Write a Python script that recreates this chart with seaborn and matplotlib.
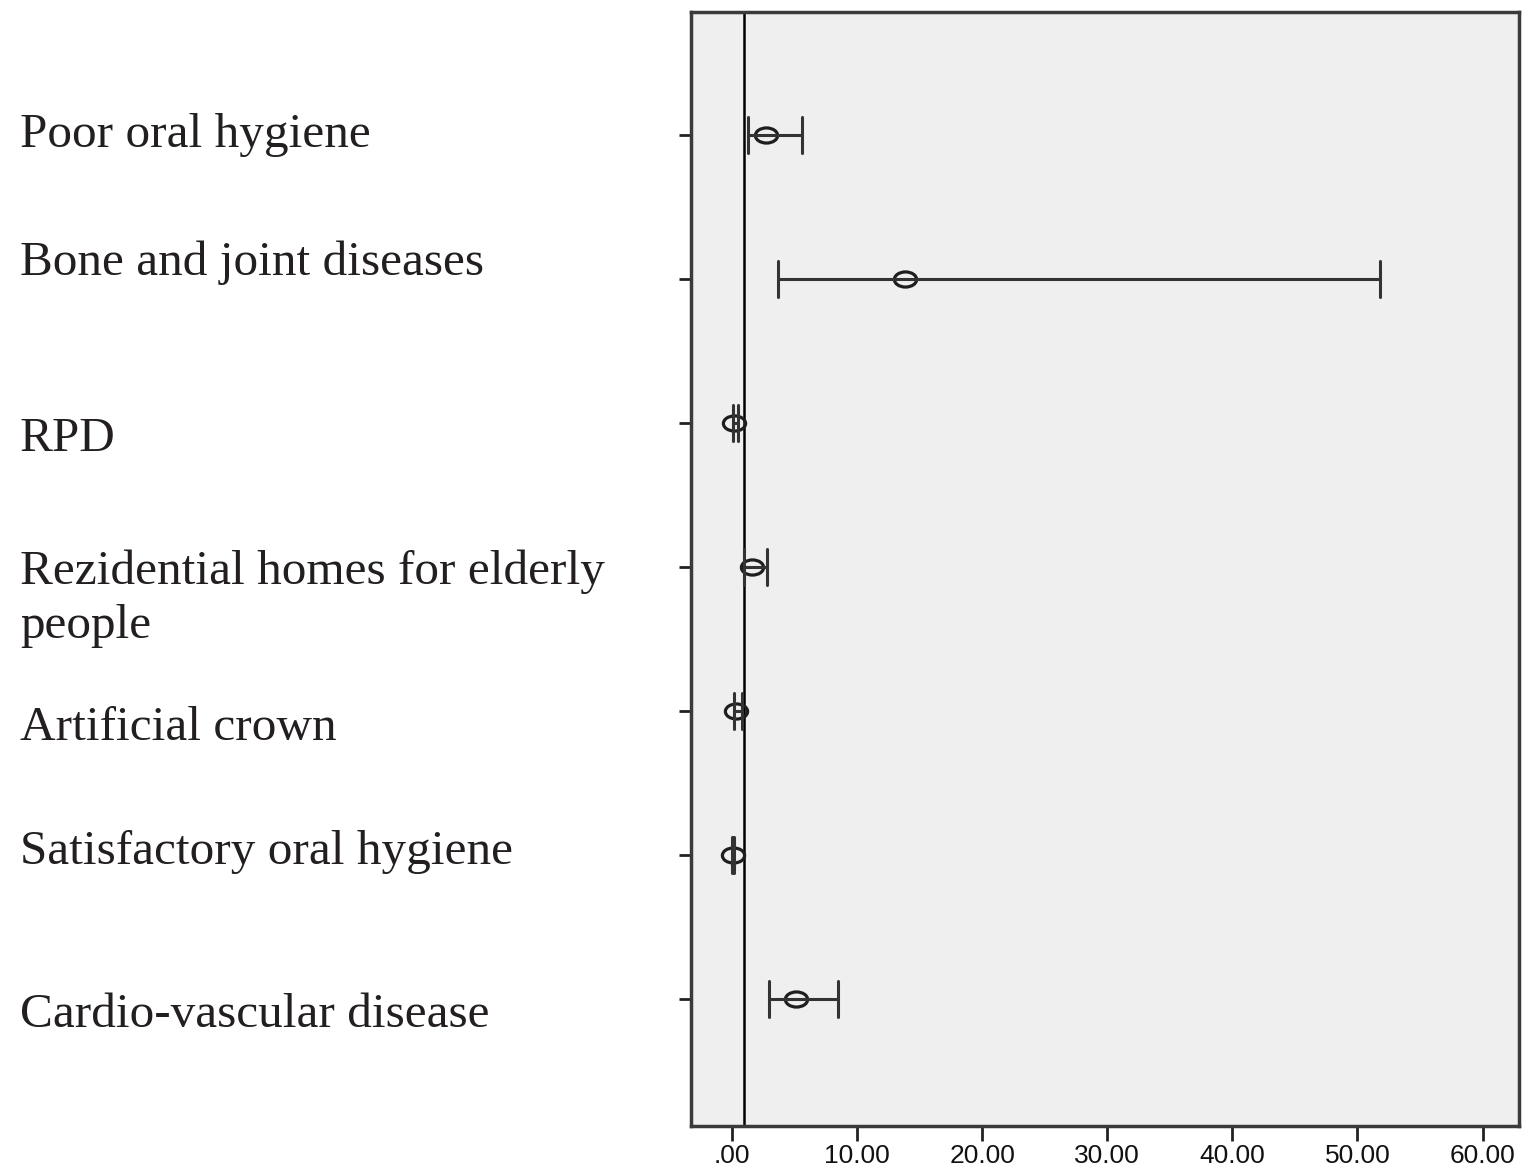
import numpy as np
import pandas as pd
import seaborn as sns
import matplotlib.pyplot as plt
import matplotlib.transforms as mtrans
from matplotlib.path import Path
from matplotlib.ticker import FuncFormatter

# risk factors (top to bottom) with odds ratio and 95% CI
factors = ["Poor oral hygiene", "Bone and joint diseases", "RPD",
           "Rezidential homes for elderly people", "Artificial crown",
           "Satisfactory oral hygiene", "Cardio-vascular disease"]
labels = ["Poor oral hygiene", "Bone and joint diseases", "RPD",
          "Rezidential homes for elderly\npeople", "Artificial crown",
          "Satisfactory oral hygiene", "Cardio-vascular disease"]
odds = [2.7, 13.8, 0.15, 1.6, 0.35, 0.05, 5.1]
ci_low = [1.3, 3.7, 0.05, 1.0, 0.2, 0.02, 3.0]
ci_high = [5.6, 51.8, 0.45, 2.8, 0.8, 0.2, 8.5]
xticks = [0, 10, 20, 30, 40, 50, 60]

# long table: lower, estimate, upper for each factor
rows = []
for f, lo, o, hi in zip(factors, ci_low, odds, ci_high):
    for v in (lo, o, hi):
        rows.append({"factor": f, "value": v})
df = pd.DataFrame(rows)

sns.set_theme(style="white")

fig = plt.figure(figsize=(15.28, 11.73), dpi=100)
ax = fig.add_axes([0.452, 0.040, 0.542, 0.950])
ax.set_facecolor("#efefef")

# elliptical hollow marker like the SPSS output
ell = Path.unit_circle().transformed(mtrans.Affine2D().scale(1, 0.68))

sns.pointplot(data=df, x="value", y="factor", order=factors,
              estimator="median", errorbar=lambda v: (v.min(), v.max()),
              capsize=0.25, linestyle="none", marker=ell, color="#1e1e1e",
              markersize=16, markeredgewidth=2.3, markerfacecolor="none",
              err_kws={"linewidth": 2.2, "color": "#333333"}, ax=ax)

ax.axvline(1, color="black", linewidth=1.8, zorder=0.5)

ax.set_xlim(-3.3, 62.9)
ax.set_ylim(6.88, -0.855)
ax.set_xticks(xticks)
ax.xaxis.set_major_formatter(FuncFormatter(lambda v, p: f"{v:.2f}".lstrip("0") if v == 0 else f"{v:.2f}"))
ax.set_xlabel("")
ax.set_ylabel("")
ax.tick_params(axis="x", bottom=True, length=11, width=2, color="#222222",
               labelsize=19, labelcolor="#111111", pad=2)
ax.tick_params(axis="y", left=True, length=9, width=2, color="#222222",
               labelleft=False)
for lab in ax.get_xticklabels():
    lab.set_fontfamily("Liberation Sans")
for s in ax.spines.values():
    s.set_color("#3a3a3a")
    s.set_linewidth(2.5)

# row labels on the left, in figure x / data y
trans = mtrans.blended_transform_factory(fig.transFigure, ax.transData)
offsets = [0.0, -0.11, 0.11, 0.22, 0.12, -0.02, 0.11]
for i, (lab, off) in enumerate(zip(labels, offsets)):
    fig.text(0.013, i + off, lab, transform=trans, ha="left", va="center",
             fontsize=35.5, family="Liberation Serif", color="#231f20",
             linespacing=1.32)

fig.savefig("out.png", dpi=100)
